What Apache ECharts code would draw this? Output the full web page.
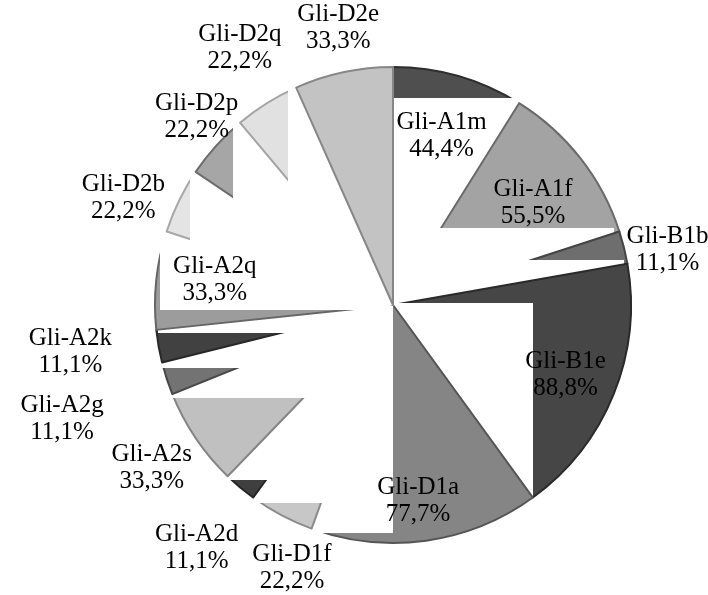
<!DOCTYPE html>
<html>
<head>
<meta charset="utf-8">
<script src="https://cdn.jsdelivr.net/npm/echarts@6/dist/echarts.min.js"></script>
<style>
  html, body { margin: 0; padding: 0; background: #ffffff; }
  #chart { width: 708px; height: 595px; }
</style>
</head>
<body>
<div id="chart"></div>
<script>
// Gliadin components and their occurrence shares (%)
const categories = ['Gli-A1m', 'Gli-A1f', 'Gli-B1b', 'Gli-B1e', 'Gli-D1a', 'Gli-D1f', 'Gli-A2d',
  'Gli-A2s', 'Gli-A2g', 'Gli-A2k', 'Gli-A2q', 'Gli-D2b', 'Gli-D2p', 'Gli-D2q', 'Gli-D2e'];
const shares = [44.4, 55.5, 11.1, 88.8, 77.7, 22.2, 11.1, 33.3, 11.1, 11.1, 33.3, 22.2, 22.2, 22.2, 33.3];

// slice fill and bevel edge shades
const fills = ['#4f4f4f', '#a3a3a3', '#6e6e6e', '#464646', '#858585', '#c7c7c7', '#3f3f3f',
  '#c0c0c0', '#737373', '#414141', '#9c9c9c', '#e4e4e4', '#a6a6a6', '#e1e1e1', '#c3c3c3'];
const edges = ['#2e2e2e', '#6a6a6a', '#444444', '#2a2a2a', '#555555', '#8a8a8a', '#262626',
  '#848484', '#474747', '#282828', '#666666', '#a8a8a8', '#6d6d6d', '#a4a4a4', '#878787'];

// label placement: distance from the centre (px) and turn from the slice middle (deg)
const labelDist = [176, 173, 280, 186, 198, 282, 312, 291, 350, 326, 180, 290, 272, 299, 282];
const labelTurn = [0, 2, 2.7, 0, 0.7, -7, -1, 0, -1, 1.7, 2, -4.4, 1.8, 1.2, 0.8];

// white panels painted right after each slice [x0, y0, x1, y1]
const panels = [
  [393, 98, 530, 305],
  [393, 228, 614, 305],
  [393, 260, 624, 305],
  [393, 303, 533, 500],
  [160, 310, 393, 533],
  [160, 310, 393, 503],
  [160, 310, 393, 480],
  [160, 310, 393, 398],
  [158, 310, 393, 368],
  [158, 310, 393, 333],
  [160, 200, 393, 310],
  [190, 150, 393, 305],
  [233, 100, 393, 305],
  [288, 80, 393, 305],
  null
];

const CX = 393, CY = 305, R = 238;
const total = shares.reduce((a, b) => a + b, 0);
const mids = [];
let acc = 0;
shares.forEach(v => { mids.push((acc + v / 2) / total * 360); acc += v; });

const fmt = v => v.toFixed(1).replace('.', ',') + '%';
const clear = { color: 'rgba(0,0,0,0)', borderWidth: 0 };

const baseSeries = {
  type: 'pie',
  center: [CX, CY],
  radius: R,
  startAngle: 90,
  clockwise: true,
  silent: true,
  animation: false,
  avoidLabelOverlap: false,
  label: { show: false },
  labelLine: { show: false },
  emphasis: { disabled: true }
};

// one layer per slice so the panels can sit between them
const series = categories.map((name, i) => Object.assign({}, baseSeries, {
  name: 'layer-' + i,
  z: 2 + 2 * i,
  data: categories.map((c, j) => ({
    name: c,
    value: shares[j],
    itemStyle: j === i ? { color: fills[j], borderColor: edges[j], borderWidth: 2 } : clear
  }))
}));

// top layer carrying the labels
series.push(Object.assign({}, baseSeries, {
  name: 'labels',
  z: 100,
  data: categories.map((c, j) => ({ name: c, value: shares[j], itemStyle: clear })),
  label: {
    show: true,
    position: 'inside',
    formatter: p => p.name + '\n' + fmt(p.value),
    fontFamily: 'Liberation Serif',
    fontSize: 25,
    lineHeight: 27,
    color: '#000000'
  },
  labelLayout: p => {
    const i = p.dataIndex;
    const a = (mids[i] + labelTurn[i]) * Math.PI / 180;
    return {
      x: CX + labelDist[i] * Math.sin(a),
      y: CY - labelDist[i] * Math.cos(a),
      align: 'center',
      verticalAlign: 'middle'
    };
  }
}));

const graphicEls = [];
panels.forEach((p, i) => {
  if (!p) return;
  graphicEls.push({
    type: 'rect',
    z: 3 + 2 * i,
    silent: true,
    shape: { x: p[0], y: p[1], width: p[2] - p[0], height: p[3] - p[1] },
    style: { fill: '#ffffff' }
  });
});

const chart = echarts.init(document.getElementById('chart'), null, { renderer: 'canvas' });
chart.setOption({
  backgroundColor: '#ffffff',
  animation: false,
  series: series,
  graphic: { elements: graphicEls }
});
</script>
</body>
</html>
